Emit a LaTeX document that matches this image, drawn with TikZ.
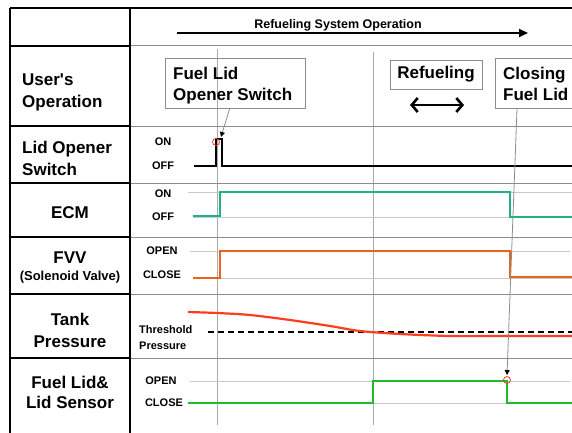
\documentclass[tikz,border=0pt]{standalone}
\usepackage{fontspec}
\setmainfont{Liberation Sans}
\usetikzlibrary{arrows.meta}
\definecolor{ecmc}{RGB}{30,178,140}
\definecolor{fvvc}{RGB}{232,100,30}
\definecolor{tankc}{RGB}{255,60,30}
\definecolor{lidc}{RGB}{30,190,40}
\definecolor{lvl}{RGB}{200,200,200}
\definecolor{sep}{RGB}{140,140,140}
\definecolor{vgrid}{RGB}{170,170,170}
\definecolor{markc}{RGB}{230,70,50}
\begin{document}
\begin{tikzpicture}[x=1pt,y=-1pt,
  biglabel/.style={font=\fontsize{17}{20}\selectfont\bfseries, inner sep=0, anchor=base},
  bigleft/.style={biglabel, anchor=base west},
  midlabel/.style={font=\fontsize{13}{15}\selectfont\bfseries, inner sep=0, anchor=base},
  smalllabel/.style={font=\fontsize{11}{12}\selectfont\bfseries, inner sep=0, anchor=base},
  smallleft/.style={smalllabel, anchor=base west},
  frame/.style={line width=2pt, black},
  lsep/.style={line width=1.2pt, black},
  psep/.style={line width=1pt, sep},
  level/.style={line width=1pt, lvl},
  vline/.style={line width=0.8pt, vgrid},
  sig/.style={line width=2pt, line join=miter},
  opbox/.style={draw=sep, line width=1pt, inner sep=0, anchor=north west},
  ptr/.style={draw=sep, line width=0.8pt, -{Triangle[length=5pt,width=5pt,black]}},
  marker/.style={draw=markc, line width=0.8pt, circle, minimum size=7pt, inner sep=0}
]
\useasboundingbox (0,0) rectangle (572,433);

% vertical grid lines
\draw[vline] (217,49) -- (217,425);
\draw[vline] (373,52) -- (373,425);

% row separators
\foreach \yy in {46,126,183,237,294,358} {
  \draw[lsep] (10,\yy) -- (130,\yy);
  \draw[psep] (130,\yy) -- (572,\yy);
}
% frame
\draw[frame] (10,8) -- (572,8);
\draw[frame] (10,8) -- (10,433);
\draw[frame] (130,8) -- (130,433);

% header
\node[font=\fontsize{12.5}{14}\selectfont\bfseries, inner sep=0, anchor=base] (hdr) at (338,29) {Refueling System Operation};
\coordinate (hs) at (177,33);
\coordinate (he) at (528,33);
\draw[line width=2pt, -{Triangle[length=9pt,width=8pt]}] (hs) -- (he);

% left column labels
\node[bigleft] (u1) at (22,85) {User\textquotesingle s};
\node[bigleft] (u2) at (22,107) {Operation};
\node[bigleft] (l1) at (22,153) {Lid Opener};
\node[bigleft] (l2) at (22,175) {Switch};
\node[biglabel] (ecm) at (70,218) {ECM};
\node[biglabel] (fvv) at (70,263) {FVV};
\node[midlabel] (sol) at (70,280) {(Solenoid Valve)};
\node[biglabel] (t1) at (70,325) {Tank};
\node[biglabel] (t2) at (70,347) {Pressure};
\node[biglabel] (f1) at (70,388) {Fuel Lid\&};
\node[biglabel] (f2) at (70,408) {Lid Sensor};

% small level labels
\node[smalllabel] (lon) at (163,145) {ON};
\node[smalllabel] (loff) at (163,169) {OFF};
\node[smalllabel] (eon) at (163,197) {ON};
\node[smalllabel] (eoff) at (163,220) {OFF};
\node[smalllabel] (vopen) at (162,254) {OPEN};
\node[smalllabel] (vclose) at (162,278) {CLOSE};
\node[smallleft] (th1) at (139,333) {Threshold};
\node[smallleft] (th2) at (139,349) {Pressure};
\node[smalllabel] (fopen) at (161,384) {OPEN};
\node[smalllabel] (fclose) at (164,406) {CLOSE};

% level lines
\draw[level] (188,192) -- (572,192);
\draw[level] (193,217) -- (572,217);
\draw[level] (190,251) -- (570,251);
\draw[level] (193,278) -- (572,278);
\draw[level] (190,381) -- (570,381);
\draw[level] (188,403) -- (572,403);

% signals
\draw[sig, black, line width=2.4pt] (194,166) -- (216,166) -- (216,139) -- (222,139) -- (222,166) -- (572,166);
\draw[sig, ecmc] (193,216) -- (220,216) -- (220,192) -- (510,192) -- (510,217) -- (572,217);
\draw[sig, fvvc] (193,278) -- (220,278) -- (220,251) -- (510,251) -- (510,277) -- (572,277);
\draw[line width=1.5pt, black, dash pattern=on 6pt off 4pt] (208,332) -- (572,332);
\draw[sig, tankc, line width=2.2pt] plot[smooth, tension=0.5] coordinates {(188,312) (217,313) (250,315) (290,320) (330,326) (360,331) (400,334) (450,336) (500,336) (572,336)};
\draw[sig, lidc] (188,403) -- (373,403) -- (373,381) -- (507,381) -- (507,403) -- (572,403);

% operation boxes
\node[opbox, minimum width=140pt, minimum height=50pt] (b1) at (165,58) {};
\node[bigleft] (b1a) at (173,80) {Fuel Lid};
\node[bigleft] (b1b) at (173,100) {Opener Switch};
\node[opbox, minimum width=92pt, minimum height=29pt] (b2) at (390,60) {};
\node[biglabel] (b2a) at (436,79) {Refueling};
\node[opbox, minimum width=90pt, minimum height=50pt] (b3) at (495,58) {};
\node[bigleft] (b3a) at (503,80) {Closing};
\node[bigleft] (b3b) at (503,100) {Fuel Lid};

% refueling double arrow
\coordinate (ra) at (410,105);
\coordinate (rb) at (464,105);
\draw[line width=2.6pt, {Straight Barb[length=6pt,width=14pt]}-{Straight Barb[length=6pt,width=14pt]}] (ra) -- (rb);

% markers and pointers
\node[marker] (m1) at (216,142) {};
\node[marker] (m2) at (507,380) {};
\coordinate (p1) at (221,137);
\coordinate (p2) at (507,375);
\draw[ptr] ([xshift=-6pt]b1.south) -- (p1);
\draw[ptr] ([xshift=22pt]b3.south west) -- (p2);
\end{tikzpicture}
\end{document}
